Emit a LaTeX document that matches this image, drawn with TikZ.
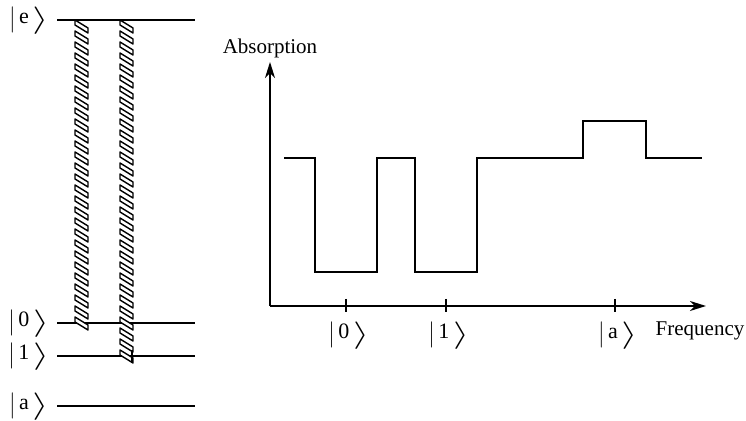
\documentclass[tikz,border=0pt]{standalone}
\usepackage{fontspec}
\setmainfont{Liberation Serif}
\usepackage{graphicx}
\usetikzlibrary{arrows.meta}
% ket with a tall bar and a wide angle bracket
\newcommand\ketlabel[1]{\raisebox{-0.2ex}{\scalebox{1}[1.2]{$\bigl|$}}\,#1\,\raisebox{-0.35ex}{\scalebox{1.9}[1.25]{$\rangle$}}}
\tikzset{
  level/.style={line width=0.9pt},
  axis/.style={line width=0.8pt,-{Stealth[length=8pt,width=5pt,inset=2.5pt]}},
  spectrum/.style={line width=1.1pt},
  ket/.style={font=\fontsize{11}{13}\selectfont, inner sep=0pt},
  txt/.style={font=\fontsize{10.5}{12}\selectfont, inner sep=0pt},
  ribbon/.style={line width=0.7pt, line join=round},
}
% hatched ribbon standing for a laser coupling: x-left, x-right, y-top, number of units
\newcommand\ribbonbar[4]{%
  \foreach \k in {0,...,#4}{
    \pgfmathsetmacro\yy{#3+11*\k}
    \draw[ribbon,fill=white] (#1,\yy) -- (#1,\yy+5) -- (#2,\yy+13) -- (#2,\yy+8) -- cycle;
  }%
}
\begin{document}
\begin{tikzpicture}[x=0.5pt,y=-0.5pt]
\useasboundingbox (0,0) rectangle (746,421);

% energy levels
\foreach \n/\lab/\yv in {e/e/20, z/0/323, o/1/356, a/a/406}{
  \node[ket] (k\n) at (29,\yv) {\ketlabel{\lab}};
  \coordinate (l\n) at (57,\yv);
  \coordinate (r\n) at (195,\yv);
  \draw[level] (l\n) -- (r\n);
}

% coupling ribbons
\ribbonbar{75}{88}{20}{27}
\ribbonbar{120}{133}{20}{30}
\draw[ribbon] (132,350) -- (132,363);

% spectrum axes
\coordinate (orig) at (270,306);
\coordinate (ytop) at (270,62);
\coordinate (xend) at (706,306);
\draw[axis] (orig) -- (ytop);
\draw[axis] (orig) -- (xend);
\node[txt] (abs) at (270,48) {Absorption};
\node[txt] (freq) at (700,331) {Frequency};

% ticks and their labels
\foreach \n/\lab/\xv in {z/0/346, o/1/446, a/a/615}{
  \coordinate (t\n) at (\xv,299);
  \coordinate (b\n) at (\xv,312);
  \draw[line width=0.8pt] (t\n) -- (b\n);
  \node[ket] (f\n) at (\xv+3,335) {\ketlabel{\lab}};
}

% absorption profile
\draw[spectrum] (284,158) -- (315,158) -- (315,272) -- (377,272) -- (377,158)
  -- (415,158) -- (415,272) -- (477,272) -- (477,158) -- (583,158)
  -- (583,121) -- (646,121) -- (646,158) -- (702,158);
\end{tikzpicture}
\end{document}
